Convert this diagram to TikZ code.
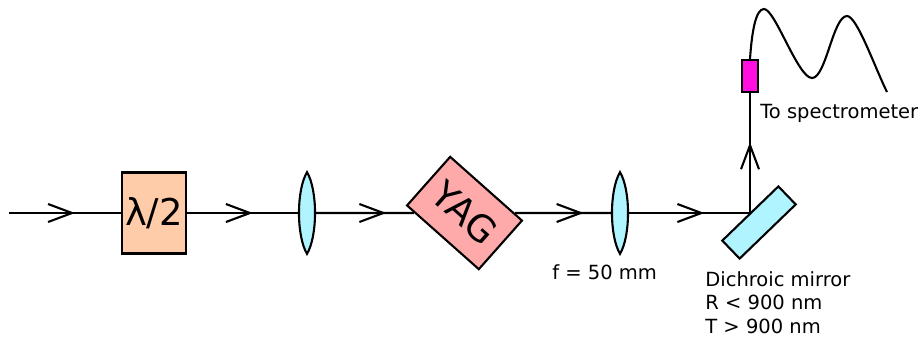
\documentclass[tikz,border=0pt]{standalone}
\usepackage{fontspec}
\setmainfont{DejaVu Sans}
\usetikzlibrary{arrows.meta, decorations.markings}
\tikzset{
	beam/.style={line width=0.042cm, postaction={decorate}, decoration={markings, mark=at position #1 with {\arrow[line width=0.042cm]{Straight Barb[length=0.48cm, width=0.36cm]}}}},
	optic/.style={draw, line width=0.042cm, inner sep=0pt, font=\fontsize{21}{24}\selectfont},
	lensbox/.style={inner sep=0pt, minimum width=0.32cm, minimum height=1.62cm},
	lensline/.style={draw, line width=0.042cm, fill=lensblue},
	caption/.style={inner sep=0pt, align=left, font=\fontsize{11.1}{13.4}\selectfont},
}
\definecolor{platepeach}{HTML}{FFCCAA}
\definecolor{lensblue}{HTML}{AFF4FF}
\definecolor{yagpink}{HTML}{FFAAAA}
\definecolor{fibremagenta}{HTML}{FF10E0}
\begin{document}
\begin{tikzpicture}[x=0.02cm, y=-0.02cm]
	\useasboundingbox (0,0) rectangle (919,336);
	\coordinate (input) at (9,213);
	\coordinate (turn) at (750,213);
	\node[optic, fill=platepeach, minimum width=1.28cm, minimum height=1.62cm] (plate) at (154,213) {λ/2};
	\node[optic, fill=yagpink, minimum width=1.92cm, minimum height=1.3cm, rotate=-41.6] (yag) at (464.5,213) {YAG};
	\node[optic, fill=lensblue, minimum width=1.56cm, minimum height=0.5cm, rotate=44] (mirror) at (759,222.5) {};
	\node[optic, fill=fibremagenta, minimum width=0.32cm, minimum height=0.64cm] (connector) at (750,76) {};
	\foreach \name/\xpos in {lensa/307, lensb/620} {
		\node[lensbox] (\name) at (\xpos,213) {};
	}
	\draw[beam=0.59] (input) -- (plate);
	\draw[beam=0.59] (plate) -- (lensa);
	\draw[beam=0.72] (lensa) -- (yag);
	\draw[beam=0.71] (yag) -- (lensb);
	\draw[beam=0.625] (lensb) -- (turn);
	\draw[beam=0.59] (turn) -- (connector);
	\foreach \name in {lensa, lensb} {
		\path[lensline] (\name.north) .. controls +(10.7,18) and +(10.7,-18) .. (\name.south) .. controls +(-10.7,-18) and +(-10.7,18) .. (\name.north) -- cycle;
	}
	\draw[line width=0.042cm] (connector.north) .. controls (752,30) and (756,9) .. (764,9) .. controls (775,9) and (798,78) .. (812,78) .. controls (826,78) and (833,16) .. (847,16) .. controls (857,16) and (875,68) .. (887,92);
	\node[caption, anchor=base west] (fibrelabel) at (760,118) {To spectrometer};
	\node[caption, anchor=base west] (focallabel) at (552,279) {f = 50 mm};
	\node[caption, anchor=north west] (mirrorlabel) at (705,271) {Dichroic mirror\\R < 900 nm\\T > 900 nm};
\end{tikzpicture}
\end{document}
